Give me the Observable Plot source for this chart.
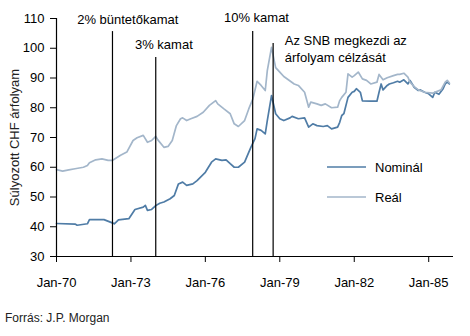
<!DOCTYPE html>
<html><head><meta charset="utf-8">
<script src="https://cdn.jsdelivr.net/npm/d3@7"></script>
<script src="https://cdn.jsdelivr.net/npm/@observablehq/plot@0.6"></script>
<style>
body{margin:0;background:#fff;font-family:Arial,"Liberation Sans",sans-serif;}
#wrap{position:relative;width:470px;height:336px;overflow:hidden;}
#legend{position:absolute;left:0;top:0;width:470px;height:336px;pointer-events:none;}
#caption{position:absolute;left:5px;top:311px;font-family:"Liberation Sans Narrow","Arial Narrow",Arial,sans-serif;font-size:12px;color:#222;white-space:nowrap;}
</style></head><body><div id="wrap"></div>
<script>
const nominalDates = ["1970-01","1970-10","1970-11","1971-04","1971-05","1971-12","1972-04","1972-05","1972-07","1972-12","1973-03","1973-07","1973-08","1973-09","1973-11","1974-01","1974-03","1974-05","1974-08","1974-10","1974-12","1975-02","1975-04","1975-07","1975-09","1976-01","1976-04","1976-06","1976-09","1976-11","1977-01","1977-03","1977-05","1977-08","1977-09","1977-11","1978-01","1978-02","1978-04","1978-06","1978-07","1978-09","1978-11","1979-01","1979-03","1979-06","1979-07","1979-10","1980-01","1980-03","1980-05","1980-07","1980-10","1980-12","1981-02","1981-05","1981-06","1981-07","1981-08","1981-10","1981-12","1982-01","1982-02","1982-04","1982-05","1982-09","1982-12","1983-01","1983-02","1983-03","1983-05","1983-06","1983-08","1983-10","1983-11","1984-01","1984-03","1984-04","1984-06","1984-08","1984-09","1984-11","1985-01","1985-03","1985-04","1985-06","1985-08","1985-09","1985-10","1985-11"];
const nominalValues = [41.1,40.9,40.5,41.0,42.4,42.4,41.3,41.0,42.3,42.7,45.8,46.6,47.2,45.5,45.8,47.1,47.9,48.3,49.4,50.5,54.4,55.0,53.9,54.4,55.5,58.3,61.7,62.8,62.3,62.5,61.2,60.0,60.0,61.7,63.4,66.7,69.6,72.9,72.4,71.2,75.7,84.1,78.0,76.3,75.7,76.6,77.1,76.3,76.6,73.5,74.6,74.0,73.7,74.0,72.9,73.5,75.1,77.4,78.0,83.5,85.2,85.5,86.4,85.2,82.3,82.2,82.2,85.2,88.0,86.0,87.5,88.0,88.4,88.9,88.6,89.4,88.0,89.2,86.9,85.8,86.0,85.2,84.7,83.5,85.2,84.5,86.4,88.0,88.6,88.0];
const realDates = ["1970-01","1970-04","1970-07","1970-10","1971-02","1971-04","1971-05","1971-08","1971-11","1972-02","1972-04","1972-08","1972-11","1973-02","1973-04","1973-07","1973-09","1973-11","1974-01","1974-02","1974-05","1974-07","1974-09","1974-11","1975-01","1975-02","1975-04","1975-06","1975-09","1975-12","1976-03","1976-06","1976-07","1976-10","1977-01","1977-03","1977-05","1977-08","1977-10","1977-12","1978-02","1978-04","1978-06","1978-07","1978-09","1978-11","1979-01","1979-03","1979-06","1979-08","1979-10","1980-01","1980-03","1980-04","1980-07","1980-09","1980-11","1981-02","1981-05","1981-06","1981-07","1981-09","1981-10","1981-12","1982-01","1982-03","1982-05","1982-07","1982-09","1982-12","1983-01","1983-03","1983-05","1983-08","1983-10","1983-11","1984-01","1984-03","1984-04","1984-06","1984-08","1984-11","1985-03","1985-04","1985-07","1985-09","1985-10","1985-11"];
const realValues = [59.2,58.7,59.1,59.5,60.0,60.6,61.5,62.5,62.8,62.3,62.3,64.0,65.1,69.0,69.9,70.7,68.4,69.0,70.4,69.2,66.7,67.0,69.0,74.0,76.3,76.6,75.7,76.3,77.1,78.5,80.8,82.4,81.3,79.6,78.0,74.6,73.7,75.7,79.6,83.0,88.9,87.5,85.8,92.5,100.3,93.5,92.0,90.5,89.0,88.0,87.5,85.2,80.2,81.9,81.3,80.8,81.3,80.0,80.2,82.4,83.5,85.2,91.4,90.3,90.8,92.0,89.7,89.2,88.0,88.6,91.2,89.4,90.1,90.8,91.2,91.2,91.6,90.3,88.6,87.1,86.0,85.2,84.9,85.2,86.0,88.6,89.2,88.3];
const seriesNames = ["Nominál","Reál"];
const seriesColors = ["#4f7ca6","#a3b6ca"];
const eventDates = ["1972-04-04","1974-01-01","1977-11-28","1978-09-25"];
const eventTops = [105.6,96.9,105.6,101.6];
const labelTexts = ["2% büntetőkamat","3% kamat","10% kamat","Az SNB megkezdi az\nárfolyam célzását"];
const labelDates = ["1970-11-01","1973-03-01","1976-10-01","1979-03-15"];
const labelValues = [110.0,101.6,110.7,100.1];
const yTicks = [30,40,50,60,70,80,90,100,110];
const xTicks = ["1970-01-01","1973-01-01","1976-01-01","1979-01-01","1982-01-01","1985-01-01"];
const xDomain = ["1970-01-01","1986-01-01"];
const yTitle = "Súlyozott CHF árfolyam";
const captionText = "Forrás: J.P. Morgan";

const P = s => new Date(s);
const series = [
  ...nominalDates.map((d,i)=>({date:P(d), value:nominalValues[i], s:seriesNames[0]})),
  ...realDates.map((d,i)=>({date:P(d), value:realValues[i], s:seriesNames[1]}))
];
const events = eventDates.map((d,i)=>({date:P(d), top:eventTops[i]}));
const labels = labelTexts.map((t,i)=>({date:P(labelDates[i]), value:labelValues[i], text:t}));

const chart = Plot.plot({
  width:470, height:300,
  marginLeft:56, marginRight:17, marginTop:18, marginBottom:44,
  style:{fontSize:"13px", fontFamily:"Arial, 'Liberation Sans', sans-serif", color:"#000", background:"#fff"},
  x:{type:"utc", domain:xDomain.map(P)},
  y:{domain:[30,110]},
  color:{domain:seriesNames, range:seriesColors},
  marks:[
    Plot.axisY({ticks:yTicks, tickSize:6, tickPadding:6, label:null, stroke:"#000"}),
    Plot.axisX({ticks:xTicks.map(P), tickFormat:d3.utcFormat("%b-%y"), tickSize:6, tickPadding:15, label:null, stroke:"#000"}),
    Plot.line(series, {x:"date", y:"value", z:"s", stroke:"s", strokeWidth:1.7}),
    Plot.ruleX(events, {x:"date", y1:30, y2:"top", stroke:"#000", strokeWidth:1.2}),
    Plot.ruleX([P(xDomain[0])], {stroke:"#000", strokeWidth:1.2}),
    Plot.ruleY([30], {stroke:"#000", strokeWidth:1.2}),
    Plot.text(labels, {x:"date", y:"value", text:"text", textAnchor:"start", lineHeight:1.3, fill:"#000"}),
    Plot.text([yTitle], {frameAnchor:"left", textAnchor:"middle", rotate:-90, dx:-42, fill:"#222"})
  ]
});
const wrap = document.getElementById("wrap");
wrap.appendChild(chart);

// legend
const ns = "http://www.w3.org/2000/svg";
const lg = document.createElementNS(ns,"svg");
lg.setAttribute("id","legend"); lg.setAttribute("width",470); lg.setAttribute("height",336);
seriesNames.forEach((n,i)=>{
  const y = 167 + i*30;
  const l = document.createElementNS(ns,"line");
  l.setAttribute("x1",327); l.setAttribute("x2",366); l.setAttribute("y1",y); l.setAttribute("y2",y);
  l.setAttribute("stroke",seriesColors[i]); l.setAttribute("stroke-width",1.7);
  lg.appendChild(l);
  const t = document.createElementNS(ns,"text");
  t.setAttribute("x",375); t.setAttribute("y",y); t.setAttribute("dy","0.35em");
  t.setAttribute("font-size","13px"); t.setAttribute("font-family","Arial, 'Liberation Sans', sans-serif");
  t.textContent = n;
  lg.appendChild(t);
});
wrap.appendChild(lg);
const cap = document.createElement("div");
cap.id = "caption"; cap.textContent = captionText;
wrap.appendChild(cap);
</script></body></html>
